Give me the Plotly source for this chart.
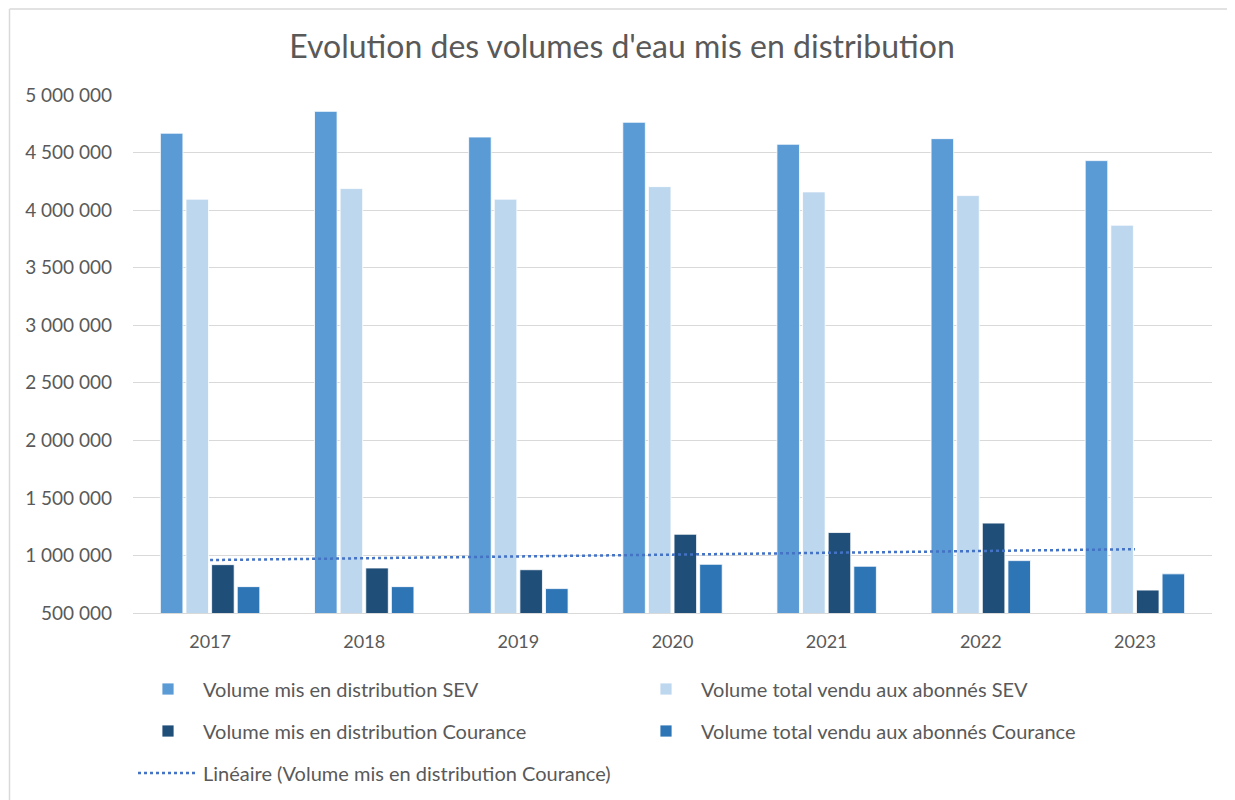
import numpy as np
import plotly.graph_objects as go

years = ["2017", "2018", "2019", "2020", "2021", "2022", "2023"]
sev_dist = [4668000, 4858000, 4635000, 4763000, 4572000, 4621000, 4430000]
sev_sold = [4095000, 4187000, 4095000, 4204000, 4158000, 4126000, 3869000]
cour_dist = [920000, 891000, 876000, 1184000, 1199000, 1281000, 699000]
cour_sold = [729000, 729000, 712000, 923000, 906000, 955000, 840000]

names = [
    "Volume mis en distribution SEV",
    "Volume total vendu aux abonnés SEV",
    "Volume mis en distribution Courance",
    "Volume total vendu aux abonnés Courance",
    "Linéaire (Volume mis en distribution Courance)",
]

# linear trendline of Courance distribution (Excel-style, x = 1..n)
xi = np.arange(1, len(years) + 1)
slope, intercept = np.polyfit(xi, cour_dist, 1)
trend = slope * xi + intercept

FONT = "Lato"
TXT = "#595959"
OFF = 8  # page body margin
W, H = 1235 - OFF, 800 - OFF
PW, PH = 1079, 518
PX0, PY1 = 133 - OFF, 613 - OFF  # plot left, plot bottom in figure px


def py(y):
    return (PY1 - (y - OFF)) / PH


fig = go.Figure()
series = [
    (sev_dist, "#5B9BD5", "legend"),
    (sev_sold, "#BDD7EE", "legend"),
    (cour_dist, "#1F4E79", "legend2"),
    (cour_sold, "#2E75B6", "legend2"),
]
for (vals, col, leg), nm in zip(series, names[:4]):
    fig.add_trace(go.Bar(
        x=years, y=vals, name=nm, marker=dict(color=col, line=dict(color="white", width=0.8)),
        legend=leg,
    ))
fig.add_trace(go.Scatter(
    x=years, y=trend, name=names[4], mode="lines",
    line=dict(color="#4472C4", width=2.5, dash="dot"), legend="legend3",
))

leg_common = dict(orientation="h", x=0.0, xanchor="left", yanchor="middle",
                  entrywidth=423, entrywidthmode="pixels",
                  font=dict(family=FONT, size=20, color=TXT), bgcolor="rgba(0,0,0,0)",
                  itemwidth=60)

bx = (9.5 - OFF - PX0) / PW
by = py(9)
border = dict(color="#D9D9D9", width=1.5)

fig.update_layout(
    width=W, height=H,
    margin=dict(l=PX0, r=W - PX0 - PW, t=PY1 - PH, b=H - PY1, autoexpand=False),
    paper_bgcolor="white", plot_bgcolor="white",
    separators=", ",
    barmode="group", bargap=0.335, bargroupgap=0.12,
    title=dict(text="Evolution des volumes d'eau mis en distribution",
               x=(622 - OFF) / W, xanchor="center", y=1 - (47 - OFF) / H, yanchor="middle",
               font=dict(family=FONT, size=32, color=TXT)),
    font=dict(family=FONT, color=TXT),
    legend=dict(y=py(689), **leg_common),
    legend2=dict(y=py(731), **leg_common),
    legend3=dict(y=py(773), **leg_common),
    xaxis=dict(type="category", showline=True, linecolor="#D9D9D9", linewidth=1,
               ticks="outside", ticklen=12, tickcolor="rgba(0,0,0,0)",
               tickfont=dict(family=FONT, size=18, color=TXT), showgrid=False),
    yaxis=dict(range=[500000, 5000000], dtick=500000, tickformat=",d",
               gridcolor="#D9D9D9", gridwidth=1, zeroline=False,
               ticklabelstandoff=20,
               tickfont=dict(family=FONT, size=19, color=TXT)),
    shapes=[
        dict(type="line", xref="paper", yref="paper", x0=bx, x1=1.3, y0=by, y1=by,
             line=border, layer="below"),
        dict(type="line", xref="paper", yref="paper", x0=bx, x1=bx, y0=by, y1=-0.6,
             line=border, layer="below"),
    ],
)

fig.write_html("out.html")
